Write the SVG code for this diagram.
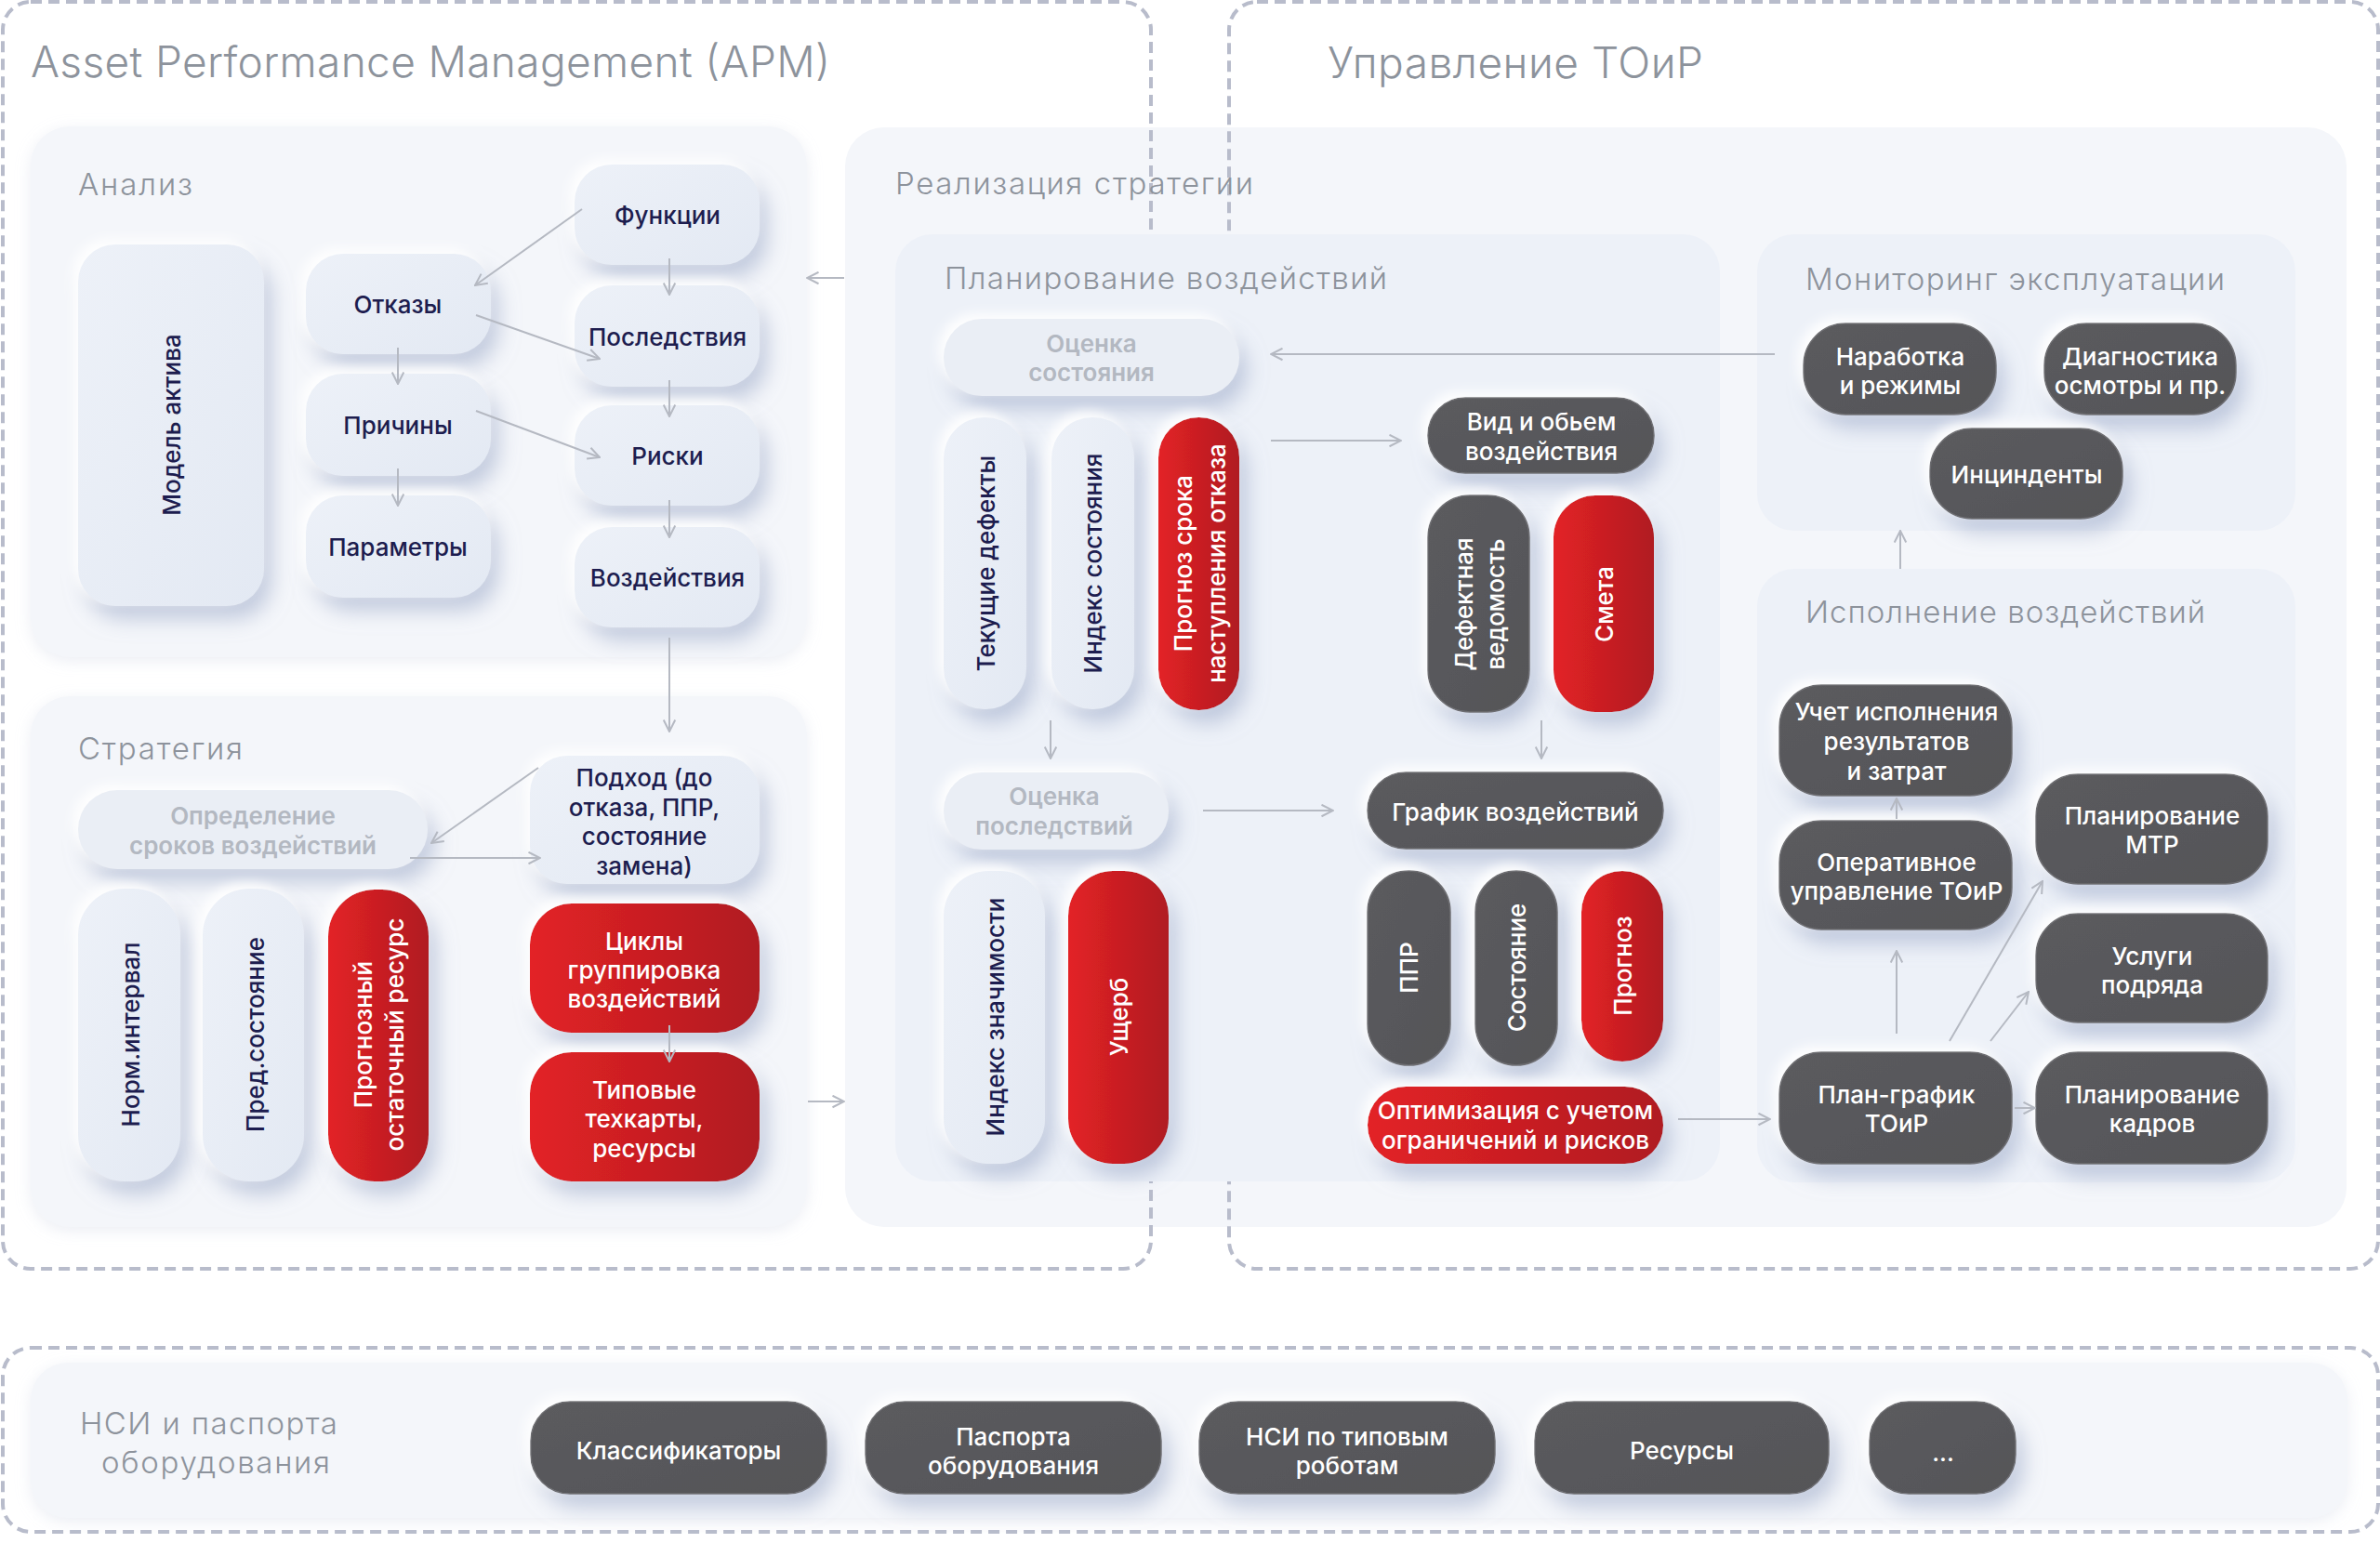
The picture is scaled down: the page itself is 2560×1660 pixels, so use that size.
<svg xmlns="http://www.w3.org/2000/svg" width="2560" height="1660" viewBox="0 0 2560 1660">
<defs>
<linearGradient id="gl" x1="0" y1="0" x2="1" y2="1"><stop offset="0" stop-color="#edf1f8"/><stop offset="1" stop-color="#e3e9f3"/></linearGradient>
<linearGradient id="gr" x1="0" y1="0" x2="1" y2="0"><stop offset="0" stop-color="#e32226"/><stop offset="1" stop-color="#b01b20"/></linearGradient>
<linearGradient id="gd" x1="0" y1="0" x2="1" y2="1"><stop offset="0" stop-color="#5b5b5e"/><stop offset="1" stop-color="#555558"/></linearGradient>
<filter id="sh" x="-40%" y="-40%" width="180%" height="190%">
<feGaussianBlur in="SourceAlpha" stdDeviation="11" result="b1"/>
<feOffset in="b1" dx="8" dy="14" result="o1"/>
<feFlood flood-color="#98a6c6" flood-opacity="0.55"/>
<feComposite in2="o1" operator="in" result="s1"/>
<feGaussianBlur in="SourceAlpha" stdDeviation="6" result="b2"/>
<feOffset in="b2" dx="-6" dy="-6" result="o2"/>
<feFlood flood-color="#ffffff" flood-opacity="0.95"/>
<feComposite in2="o2" operator="in" result="s2"/>
<feMerge><feMergeNode in="s1"/><feMergeNode in="s2"/><feMergeNode in="SourceGraphic"/></feMerge>
</filter>
<filter id="psh" x="-10%" y="-10%" width="120%" height="120%">
<feDropShadow dx="0" dy="4" stdDeviation="8" flood-color="#c7cfdf" flood-opacity="0.35"/>
</filter>
<marker id="ah" viewBox="0 0 12 12" refX="11" refY="6" markerWidth="15" markerHeight="15" markerUnits="userSpaceOnUse" orient="auto">
<path d="M1,1 L11,6 L1,11" fill="none" stroke="#b5b9c2" stroke-width="1.6"/>
</marker>
</defs>
<style>
.panel{fill:#f4f6fa}
.sub{fill:#edf1f8}
.lt{fill:url(#gl);filter:url(#sh)}
.gh{fill:#eaeef5;filter:url(#sh)}
.dk{fill:url(#gd);stroke:#6e6e72;stroke-width:1.5;filter:url(#sh)}
.rd{fill:url(#gr);filter:url(#sh)}
.t{font-family:Inter,"Noto Sans",sans-serif;font-size:26px;font-weight:500;text-anchor:middle;dominant-baseline:central}
.tn{fill:#1d1d4f}
.tw{fill:#ffffff}
.tg{fill:#b3b8c1;font-weight:600}
.h{font-family:Inter,"Noto Sans",sans-serif;font-weight:300;fill:#8d939c}
.h1{font-size:46px}
.h2{font-size:33px}
.dash{fill:none;stroke:#b8bccb;stroke-width:4;stroke-dasharray:12 7}
.con{fill:none;stroke:#b5b9c2;stroke-width:2;marker-end:url(#ah)}
</style>
<rect width="2560" height="1660" fill="#ffffff"/>

<g id="panels">
<rect class="panel" x="909" y="137" width="1615" height="1183" rx="42"/>
</g>

<g id="frames">
<rect class="dash" x="3" y="2" width="1235" height="1363" rx="30"/>
<rect class="dash" x="1322" y="2" width="1236" height="1363" rx="30"/>
<rect class="dash" x="3" y="1450" width="2555" height="198" rx="30"/>
</g>

<g id="panels2">
<rect class="panel" x="33" y="136" width="835" height="571" rx="42" filter="url(#psh)"/>
<rect class="panel" x="33" y="749" width="835" height="571" rx="42" filter="url(#psh)"/>
<rect class="sub" x="963" y="252" width="887" height="1019" rx="40"/>
<rect class="sub" x="1890" y="252" width="579" height="319" rx="40"/>
<rect class="sub" x="1890" y="612" width="579" height="660" rx="40"/>
<rect class="panel" x="33" y="1466" width="2492" height="167" rx="40" filter="url(#psh)"/>
</g>

<g id="titles">
<text class="h h1" x="33" y="83" textLength="860">Asset Performance Management (APM)</text>
<text class="h h1" x="1428" y="84" textLength="404">Управление ТОиР</text>
<text class="h h2" x="84" y="210" textLength="123">Анализ</text>
<text class="h h2" x="84" y="817" textLength="177">Стратегия</text>
<text class="h h2" x="963" y="209" textLength="385">Реализация стратегии</text>
<text class="h h2" x="1016" y="311" textLength="476">Планирование воздействий</text>
<text class="h h2" x="1942" y="312" textLength="451">Мониторинг эксплуатации</text>
<text class="h h2" x="1942" y="670" textLength="430">Исполнение воздействий</text>
<text class="h h2" x="86" y="1543" textLength="277">НСИ и паспорта</text>
<text class="h h2" x="109" y="1585" textLength="246">оборудования</text>
</g>

<!-- Анализ -->
<g id="model"><rect class="lt" x="84" y="263" width="200" height="389" rx="40"/><text class="t tn" transform="translate(184,457) rotate(-90)">Модель актива</text></g>
<g id="otkazy"><rect class="lt" x="329" y="273" width="199" height="108" rx="40"/><text class="t tn" x="428" y="327">Отказы</text></g>
<g id="prichiny"><rect class="lt" x="329" y="402" width="199" height="110" rx="40"/><text class="t tn" x="428" y="457">Причины</text></g>
<g id="parametry"><rect class="lt" x="329" y="533" width="199" height="110" rx="40"/><text class="t tn" x="428" y="588">Параметры</text></g>
<g id="funkcii"><rect class="lt" x="618" y="177" width="199" height="108" rx="40"/><text class="t tn" x="718" y="231">Функции</text></g>
<g id="posledstviya"><rect class="lt" x="618" y="307" width="199" height="109" rx="40"/><text class="t tn" x="718" y="362">Последствия</text></g>
<g id="riski"><rect class="lt" x="618" y="436" width="199" height="108" rx="40"/><text class="t tn" x="718" y="490">Риски</text></g>
<g id="vozdeystviya"><rect class="lt" x="618" y="567" width="199" height="108" rx="40"/><text class="t tn" x="718" y="621">Воздействия</text></g>

<!-- Стратегия -->
<g id="opredelenie"><rect class="gh" x="84" y="850" width="376" height="85" rx="42"/><text class="t tg" x="272"><tspan x="272" y="877">Определение</tspan><tspan x="272" y="909">сроков воздействий</tspan></text></g>
<g id="podhod"><rect class="lt" x="570" y="813" width="247" height="138" rx="40"/><text class="t tn"><tspan x="693" y="836">Подход (до</tspan><tspan x="693" y="868">отказа, ППР,</tspan><tspan x="693" y="899">состояние</tspan><tspan x="693" y="931">замена)</tspan></text></g>
<g id="norm"><rect class="lt" x="84" y="956" width="110" height="315" rx="50"/><text class="t tn" transform="translate(140,1113) rotate(-90)">Норм.интервал</text></g>
<g id="pred"><rect class="lt" x="218" y="956" width="109" height="315" rx="50"/><text class="t tn" transform="translate(274,1113) rotate(-90)">Пред.состояние</text></g>
<g id="prognozny"><rect class="rd" x="353" y="957" width="108" height="314" rx="50"/><text class="t tw" transform="translate(407,1113) rotate(-90)"><tspan x="0" y="-17">Прогнозный</tspan><tspan x="0" y="17">остаточный ресурс</tspan></text></g>
<g id="cikly"><rect class="rd" x="570" y="972" width="247" height="139" rx="45"/><text class="t tw"><tspan x="693" y="1012">Циклы</tspan><tspan x="693" y="1043">группировка</tspan><tspan x="693" y="1074">воздействий</tspan></text></g>
<g id="tipovye"><rect class="rd" x="570" y="1132" width="247" height="139" rx="45"/><text class="t tw"><tspan x="693" y="1172">Типовые</tspan><tspan x="693" y="1203">техкарты,</tspan><tspan x="693" y="1235">ресурсы</tspan></text></g>

<!-- Планирование воздействий -->
<g id="ocenka-sost"><rect class="gh" x="1015" y="343" width="318" height="83" rx="41"/><text class="t tg"><tspan x="1174" y="369">Оценка</tspan><tspan x="1174" y="400">состояния</tspan></text></g>
<g id="tek-defekty"><rect class="lt" x="1015" y="449" width="89" height="314" rx="44"/><text class="t tn" transform="translate(1060,606) rotate(-90)">Текущие дефекты</text></g>
<g id="index-sost"><rect class="lt" x="1131" y="449" width="89" height="314" rx="44"/><text class="t tn" transform="translate(1175,606) rotate(-90)">Индекс состояния</text></g>
<g id="prognoz-sroka"><rect class="rd" x="1246" y="449" width="87" height="315" rx="43"/><text class="t tw" transform="translate(1290,606) rotate(-90)"><tspan x="0" y="-18">Прогноз срока</tspan><tspan x="0" y="18">наступления отказа</tspan></text></g>
<g id="vid-obem"><rect class="dk" x="1536" y="428" width="243" height="81" rx="40"/><text class="t tw"><tspan x="1658" y="453">Вид и обьем</tspan><tspan x="1658" y="485">воздействия</tspan></text></g>
<g id="def-vedomost"><rect class="dk" x="1536" y="533" width="109" height="233" rx="45"/><text class="t tw" transform="translate(1591,650) rotate(-90)"><tspan x="0" y="-17">Дефектная</tspan><tspan x="0" y="17">ведомость</tspan></text></g>
<g id="smeta"><rect class="rd" x="1671" y="533" width="108" height="233" rx="45"/><text class="t tw" transform="translate(1725,650) rotate(-90)">Смета</text></g>
<g id="ocenka-posl"><rect class="gh" x="1015" y="831" width="242" height="83" rx="41"/><text class="t tg"><tspan x="1134" y="856">Оценка</tspan><tspan x="1134" y="888">последствий</tspan></text></g>
<g id="grafik"><rect class="dk" x="1471" y="831" width="318" height="82" rx="41"/><text class="t tw" x="1630" y="873">График воздействий</text></g>
<g id="index-znach"><rect class="lt" x="1015" y="937" width="109" height="315" rx="48"/><text class="t tn" transform="translate(1070,1094) rotate(-90)">Индекс значимости</text></g>
<g id="usherb"><rect class="rd" x="1149" y="937" width="108" height="315" rx="48"/><text class="t tw" transform="translate(1203,1094) rotate(-90)">Ущерб</text></g>
<g id="ppr"><rect class="dk" x="1471" y="937" width="89" height="209" rx="44"/><text class="t tw" transform="translate(1515,1041) rotate(-90)">ППР</text></g>
<g id="sostoyanie"><rect class="dk" x="1587" y="937" width="88" height="209" rx="44"/><text class="t tw" transform="translate(1631,1041) rotate(-90)">Состояние</text></g>
<g id="prognoz"><rect class="rd" x="1701" y="937" width="88" height="205" rx="44"/><text class="t tw" transform="translate(1745,1039) rotate(-90)">Прогноз</text></g>
<g id="optimizaciya"><rect class="rd" x="1471" y="1169" width="318" height="83" rx="41"/><text class="t tw"><tspan x="1630" y="1194">Оптимизация с учетом</tspan><tspan x="1630" y="1226">ограничений и рисков</tspan></text></g>

<!-- Мониторинг -->
<g id="narabotka"><rect class="dk" x="1940" y="348" width="207" height="98" rx="45"/><text class="t tw"><tspan x="2044" y="383">Наработка</tspan><tspan x="2044" y="414">и режимы</tspan></text></g>
<g id="diagnostika"><rect class="dk" x="2199" y="348" width="206" height="98" rx="45"/><text class="t tw"><tspan x="2302" y="383">Диагностика</tspan><tspan x="2302" y="414">осмотры и пр.</tspan></text></g>
<g id="incindenty"><rect class="dk" x="2076" y="461" width="207" height="97" rx="45"/><text class="t tw" x="2180" y="510">Инцинденты</text></g>

<!-- Исполнение -->
<g id="uchet"><rect class="dk" x="1914" y="737" width="250" height="119" rx="45"/><text class="t tw"><tspan x="2040" y="765">Учет исполнения</tspan><tspan x="2040" y="797">результатов</tspan><tspan x="2040" y="829">и затрат</tspan></text></g>
<g id="operativnoe"><rect class="dk" x="1914" y="883" width="250" height="117" rx="45"/><text class="t tw"><tspan x="2040" y="927">Оперативное</tspan><tspan x="2040" y="958">управление ТОиР</tspan></text></g>
<g id="plan-grafik"><rect class="dk" x="1914" y="1132" width="250" height="120" rx="45"/><text class="t tw"><tspan x="2040" y="1177">План-график</tspan><tspan x="2040" y="1208">ТОиР</tspan></text></g>
<g id="mtr"><rect class="dk" x="2190" y="833" width="249" height="118" rx="45"/><text class="t tw"><tspan x="2315" y="877">Планирование</tspan><tspan x="2315" y="908">МТР</tspan></text></g>
<g id="uslugi"><rect class="dk" x="2190" y="983" width="249" height="117" rx="45"/><text class="t tw"><tspan x="2315" y="1028">Услуги</tspan><tspan x="2315" y="1059">подряда</tspan></text></g>
<g id="kadry"><rect class="dk" x="2190" y="1132" width="249" height="120" rx="45"/><text class="t tw"><tspan x="2315" y="1177">Планирование</tspan><tspan x="2315" y="1208">кадров</tspan></text></g>

<!-- НСИ -->
<g id="klassifikatory"><rect class="dk" x="571" y="1508" width="318" height="99" rx="42"/><text class="t tw" x="730" y="1560">Классификаторы</text></g>
<g id="pasporta"><rect class="dk" x="931" y="1508" width="318" height="99" rx="42"/><text class="t tw"><tspan x="1090" y="1545">Паспорта</tspan><tspan x="1090" y="1576">оборудования</tspan></text></g>
<g id="nsi-tip"><rect class="dk" x="1290" y="1508" width="318" height="99" rx="42"/><text class="t tw"><tspan x="1449" y="1545">НСИ по типовым</tspan><tspan x="1449" y="1576">роботам</tspan></text></g>
<g id="resursy"><rect class="dk" x="1651" y="1508" width="316" height="99" rx="42"/><text class="t tw" x="1809" y="1560">Ресурсы</text></g>
<g id="etc"><rect class="dk" x="2011" y="1508" width="157" height="99" rx="42"/><text class="t tw" x="2090" y="1562">...</text></g>

<g id="connectors">
<path class="con" d="M626,225 L511,307"/>
<path class="con" d="M720,278 L720,317"/>
<path class="con" d="M512,339 L645,386"/>
<path class="con" d="M428,374 L428,413"/>
<path class="con" d="M512,442 L645,492"/>
<path class="con" d="M428,504 L428,544"/>
<path class="con" d="M720,409 L720,448"/>
<path class="con" d="M720,538 L720,578"/>
<path class="con" d="M720,686 L720,787"/>
<path class="con" d="M908,299 L868,299"/>
<path class="con" d="M579,826 L464,907"/>
<path class="con" d="M441,923 L581,923"/>
<path class="con" d="M720,1103 L720,1142"/>
<path class="con" d="M869,1185 L908,1185"/>
<path class="con" d="M1909,381 L1367,381"/>
<path class="con" d="M1367,474 L1507,474"/>
<path class="con" d="M1130,775 L1130,816"/>
<path class="con" d="M1658,775 L1658,816"/>
<path class="con" d="M1294,872 L1434,872"/>
<path class="con" d="M1805,1204 L1904,1204"/>
<path class="con" d="M2044,612 L2044,571"/>
<path class="con" d="M2040,881 L2040,859"/>
<path class="con" d="M2040,1112 L2040,1023"/>
<path class="con" d="M2097,1120 L2197,948"/>
<path class="con" d="M2141,1120 L2182,1067"/>
<path class="con" d="M2167,1192 L2189,1192"/>
</g>
</svg>
